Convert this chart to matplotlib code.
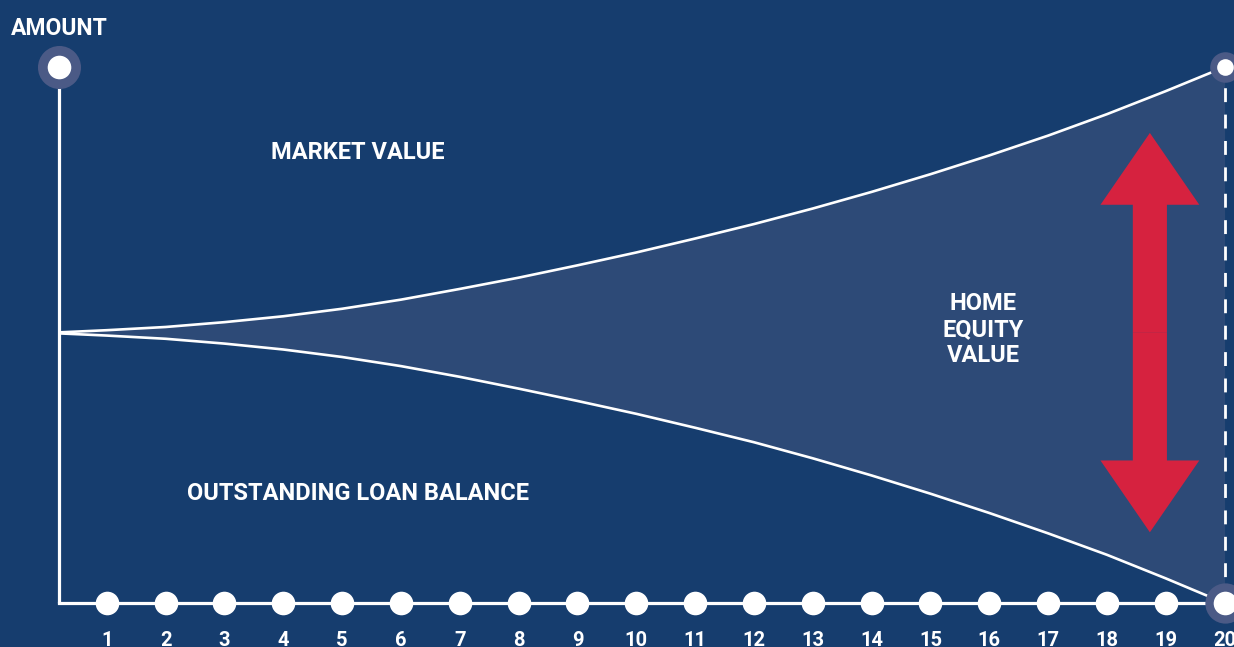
import numpy as np
import matplotlib
matplotlib.use('Agg')
import matplotlib.pyplot as plt
from matplotlib.patches import Rectangle

plt.rcParams['font.family'] = ['Roboto', 'DejaVu Sans']
plt.rcParams['font.weight'] = 'bold'

# ---- data ----
years = np.arange(0, 21)
market_value = [50.4, 50.9, 51.5, 52.4, 53.5, 54.9, 56.6, 58.6, 60.7, 63.0, 65.4,
                68.0, 70.7, 73.6, 76.7, 80.0, 83.5, 87.2, 91.2, 95.5, 100.0]
loan_balance = [50.4, 49.9, 49.3, 48.4, 47.3, 45.9, 44.2, 42.2, 40.0, 37.7, 35.3,
                32.7, 30.0, 27.0, 23.8, 20.4, 16.8, 13.0, 9.0, 4.6, 0.0]
tick_years = list(range(1, 21))
tick_labels = [str(t) for t in tick_years]

# ---- colours ----
bg = '#163d6e'
fill_col = '#2d4a77'
halo = '#4b5a86'
red = '#d6223f'
white = 'white'

fig = plt.figure(figsize=(12.34, 6.47), dpi=100)
fig.patch.set_facecolor(bg)
ax = fig.add_axes([0, 0, 1, 1])
ax.set_facecolor(bg)
ax.set_xlim(-0.816, 20.16)
ax.set_ylim(-8.2, 112.5)
ax.axis('off')

x0 = 0.19  # where the amount axis sits
clip = Rectangle((x0, -20), 30, 200, transform=ax.transData, visible=False)
ax.add_patch(clip)

# equity band + curves
band = ax.fill_between(years, loan_balance, market_value, color=fill_col, lw=0, zorder=1)
band.set_clip_path(clip)
l1, = ax.plot(years, market_value, color=white, lw=1.9, zorder=3)
l2, = ax.plot(years, loan_balance, color=white, lw=1.9, zorder=3)
l1.set_clip_path(clip)
l2.set_clip_path(clip)

# axes lines
ax.plot([x0, x0], [0, 100], color=white, lw=2.3, zorder=4, solid_capstyle='butt')
ax.plot([x0, 20], [0, 0], color=white, lw=2.3, zorder=4)
ax.plot([20, 20], [0, 100], color=white, lw=2.0, ls=(0, (5, 4.5)), zorder=2)

# year dots and labels (cut at the bottom edge, as in the original)
ax.plot(tick_years[:-1], [0] * 19, 'o', color=white, ms=17, mec='none', zorder=5, clip_on=False)
for t, lab in zip(tick_years, tick_labels):
    ax.text(t, -5.2, lab, color=white, fontsize=14.5, fontweight='bold',
            ha='center', va='top')

# end points with halos
ax.plot([x0], [100], 'o', color=halo, ms=31, mec='none', zorder=5)
ax.plot([x0], [100], 'o', color=white, ms=17, mec='none', zorder=6)
ax.plot([20], [100], 'o', color=halo, ms=22, mec='none', zorder=5, clip_on=False)
ax.plot([20], [100], 'o', color=white, ms=12, mec='none', zorder=6, clip_on=False)
ax.plot([20], [0], 'o', color=halo, ms=29, mec='none', zorder=5, clip_on=False)
ax.plot([20], [0], 'o', color=white, ms=17, mec='none', zorder=6, clip_on=False)

# red double arrow
ax_x = 18.73
mid = 50.4
ax.arrow(ax_x, mid, 0, 87.7 - mid, width=0.58, head_width=1.68, head_length=13.4,
         length_includes_head=True, color=red, lw=0, zorder=4)
ax.arrow(ax_x, mid, 0, 13.2 - mid, width=0.58, head_width=1.68, head_length=13.4,
         length_includes_head=True, color=red, lw=0, zorder=4)

# labels
ax.text(x0, 107.2, 'AMOUNT', color=white, fontsize=16.5, fontweight='bold', ha='center', va='center')
ax.text(5.27, 84.1, 'MARKET VALUE', color=white, fontsize=17, fontweight='bold', ha='center', va='center')
ax.text(5.27, 20.5, 'OUTSTANDING LOAN BALANCE', color=white, fontsize=17, fontweight='bold',
        ha='center', va='center')
ax.text(15.9, 51.0, 'HOME\nEQUITY\nVALUE', color=white, fontsize=17, fontweight='bold',
        ha='center', va='center', linespacing=1.15)

fig.savefig('out.png', dpi=100, facecolor=bg)
